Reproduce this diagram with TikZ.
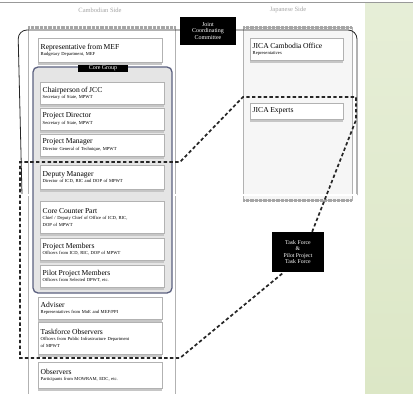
\documentclass[tikz,border=0pt]{standalone}
\usepackage{fontspec}
\setmainfont{Liberation Serif}
\usetikzlibrary{shadows}
\definecolor{greenbg}{HTML}{DCE7C6}
\definecolor{coreedge}{HTML}{5C6180}
\newcommand\ttl[1]{{\fontsize{7.6}{8.5}\selectfont #1}}
\tikzset{
  entry/.style={draw=gray!60, fill=white, anchor=north west, align=left,
    text width=119pt, inner sep=2.5pt, minimum height=#1,
    font=\fontsize{4.6}{6.5}\selectfont,
    general shadow={shadow xshift=0pt, shadow yshift=-3pt, fill=gray!45}},
  entry/.default=22pt,
  blackbox/.style={fill=black, text=white, align=center, inner sep=2pt},
  sidehead/.style={text=gray!70, font=\fontsize{6.5}{7}\selectfont},
  hatch/.style={draw=gray!70, line width=3pt, dash pattern=on 0.6pt off 0.7pt},
  tfline/.style={line width=1.7pt, dash pattern=on 3.4pt off 2.4pt, black!85}
}
\begin{document}
\begin{tikzpicture}[x=1pt,y=-1pt]
\useasboundingbox (0,0) rectangle (413,394);
\fill[white] (0,0) rectangle (413,394);
\shade[top color=greenbg!70, bottom color=greenbg] (365,3) rectangle (413,394);
\draw[gray!80, line width=1pt] (0,2) -- (413,2);

% headers
\node[sidehead] (hcam) at (100,10) {Cambodian Side};
\node[sidehead] (hjap) at (288,10) {Japanese Side};

% Cambodian column
\draw[gray!60] (28,27) -- (28,394);
\draw[gray!60] (175,27) -- (175,394);
\draw[hatch] (28,27) -- (175,27);

% Japanese column
\fill[gray!7] (243,27) rectangle (352,200);
\draw[gray!60] (243,27) rectangle (352,200);
\draw[hatch] (243,27) -- (352,27);
\draw[hatch] (243,200) -- (352,200);

% JCC scope
\draw[black!85, line width=0.8pt, rounded corners=9pt] (22,195) -- (18,30) -- (357,30) -- (357,195);
\draw[gray!55, double, double distance=1.3pt, line width=0.8pt] (18,195) -- (357,195);

% core group
\draw[coreedge, line width=1.3pt, fill=gray!20, rounded corners=5pt] (33,67) rectangle (172,293);
\node[blackbox, font=\fontsize{6}{6}\selectfont, minimum width=50pt, inner sep=1.5pt] (core) at (103,68) {Core Group};

% Cambodian entries
\node[entry=24pt] (mef) at (38,38) {\ttl{Representative from MEF}\\Budgetary Department, MEF};
\node[entry] (chair) at (40,82) {\ttl{Chairperson of JCC}\\Secretary of State, MPWT};
\node[entry] (dir) at (40,108) {\ttl{Project Director}\\Secretary of State, MPWT};
\node[entry] (pm) at (40,134) {\ttl{Project Manager}\\Director General of Technique, MPWT};
\node[entry=24pt] (dm) at (40,165) {\ttl{Deputy Manager}\\Director of ICD, RIC and DOP of MPWT};
\node[entry=32pt] (ccp) at (40,201) {\ttl{Core Counter Part}\\Chief / Deputy Chief of Office of ICD, RIC,\\DOP of MPWT};
\node[entry] (mem) at (40,238) {\ttl{Project Members}\\Officers from ICD, RIC, DOP of MPWT};
\node[entry] (pilot) at (40,265) {\ttl{Pilot Project Members}\\Officers from Selected DPWT, etc.};
\node[entry] (adv) at (38,297) {\ttl{Adviser}\\Representatives from MoE and MEF/PPI};
\node[entry=32pt] (tfo) at (38,322) {\ttl{Taskforce Observers}\\Officers from Public Infrastructure Department\\of MPWT};
\node[entry=26pt] (obs) at (38,362) {\ttl{Observers}\\Participants from MOWRAM, EDC, etc.};

% Japanese entries
\node[entry=22pt, text width=88pt] (jco) at (250,38) {\ttl{JICA Cambodia Office}\\Representatives};
\node[entry=16pt, text width=88pt] (jex) at (250,103) {\ttl{JICA Experts}};

% black boxes
\node[blackbox, font=\fontsize{6}{6.5}\selectfont, minimum width=56pt, minimum height=28pt] (jcc) at (208,31) {Joint\\Coordinating\\Committee};
\node[blackbox, font=\fontsize{5.8}{6.3}\selectfont, minimum width=52pt, minimum height=40pt] (tf) at (298,252) {Task Force\\\&\\Pilot Project\\Task Force};

% task force scope
\coordinate (a1) at (20,162);
\coordinate (a2) at (180,162);
\coordinate (a3) at (243,97);
\coordinate (a4) at (356,97);
\coordinate (a5) at (356,120);
\coordinate (b1) at (20,358);
\coordinate (b2) at (180,358);
\draw[tfline] (tf.55) -- (a5) -- (a4) -- (a3) -- (a2) -- (a1) -- (b1) -- (b2) -- (tf.-125);
\end{tikzpicture}
\end{document}
